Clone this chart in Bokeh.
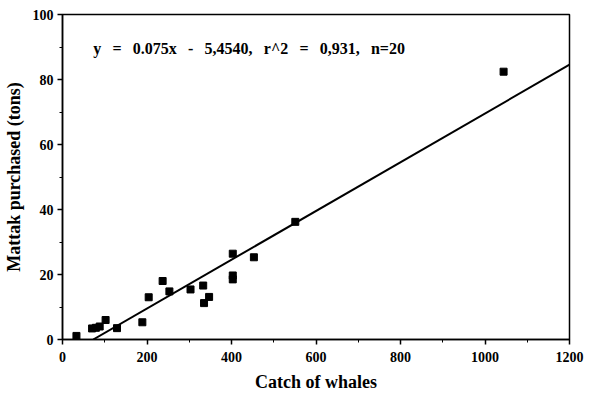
from bokeh.plotting import figure
from bokeh.models import Label, Range1d, FixedTicker
from bokeh.embed import file_html
from bokeh.resources import INLINE

# data
catch = [33, 70, 79, 88, 102, 129, 189, 204, 237, 253, 303, 333, 335, 347, 403, 403, 403, 453, 551, 1044]
mattak = [1.1, 3.4, 3.6, 4.0, 6.0, 3.5, 5.3, 13.0, 18.0, 14.8, 15.4, 16.6, 11.2, 13.1, 26.4, 19.7, 18.5, 25.3, 36.2, 82.4]
slope = 0.075
intercept = -5.454
x_ticks = [0, 200, 400, 600, 800, 1000, 1200]
y_ticks = [0, 20, 40, 60, 80, 100]
gap = "\u00a0\u00a0\u2009"
eq_parts = ["y", "=", "0.075x", "-", "5,4540,", "r^2", "=", "0,931,", "n=20"]
eq_text = gap.join(eq_parts)

FONT = "Liberation Serif"

p = figure(width=588, height=394, output_backend="svg", toolbar_location=None,
           x_range=Range1d(0, 1200), y_range=Range1d(0, 100),
           min_border_left=62, min_border_right=19, min_border_top=14, min_border_bottom=50)

p.xgrid.visible = False
p.ygrid.visible = False
p.outline_line_color = "black"
p.outline_line_width = 1.5
p.background_fill_color = "white"
p.border_fill_color = "white"

# regression line
x0 = -intercept / slope
x1 = 1200
p.line([x0, x1], [slope * x0 + intercept, slope * x1 + intercept], line_color="black", line_width=2)

p.scatter(catch, mattak, marker="square", size=7, fill_color="black", line_color="black")

for ax in (p.xaxis[0], p.yaxis[0]):
    ax.axis_line_color = "black"
    ax.axis_line_width = 1.5
    ax.major_tick_line_color = "black"
    ax.major_tick_line_width = 1.5
    ax.minor_tick_line_color = "black"
    ax.major_tick_in = 0
    ax.major_tick_out = 5
    ax.minor_tick_in = 0
    ax.minor_tick_out = 3
    ax.major_label_text_font = FONT
    ax.major_label_text_font_style = "bold"
    ax.major_label_text_font_size = "14px"
    ax.major_label_text_color = "black"
    ax.axis_label_text_font = FONT
    ax.axis_label_text_font_style = "bold"
    ax.axis_label_text_font_size = "18px"
    ax.axis_label_text_color = "black"

p.xaxis.ticker = FixedTicker(ticks=x_ticks, minor_ticks=list(range(0, 1201, 100)))
p.yaxis.ticker = FixedTicker(ticks=y_ticks, minor_ticks=list(range(0, 101, 10)))
p.xaxis.axis_label = "Catch of whales"
p.yaxis.axis_label = "Mattak purchased (tons)"
p.xaxis.major_label_standoff = 7
p.xaxis.axis_label_standoff = 7
p.yaxis.major_label_standoff = 4
p.yaxis.axis_label_standoff = 6

p.add_layout(Label(x=73, y=89.5, text=eq_text, text_font=FONT, text_font_style="bold",
                   text_font_size="16px", text_baseline="middle", text_color="black"))

open("out.html", "w").write(file_html(p, INLINE))
